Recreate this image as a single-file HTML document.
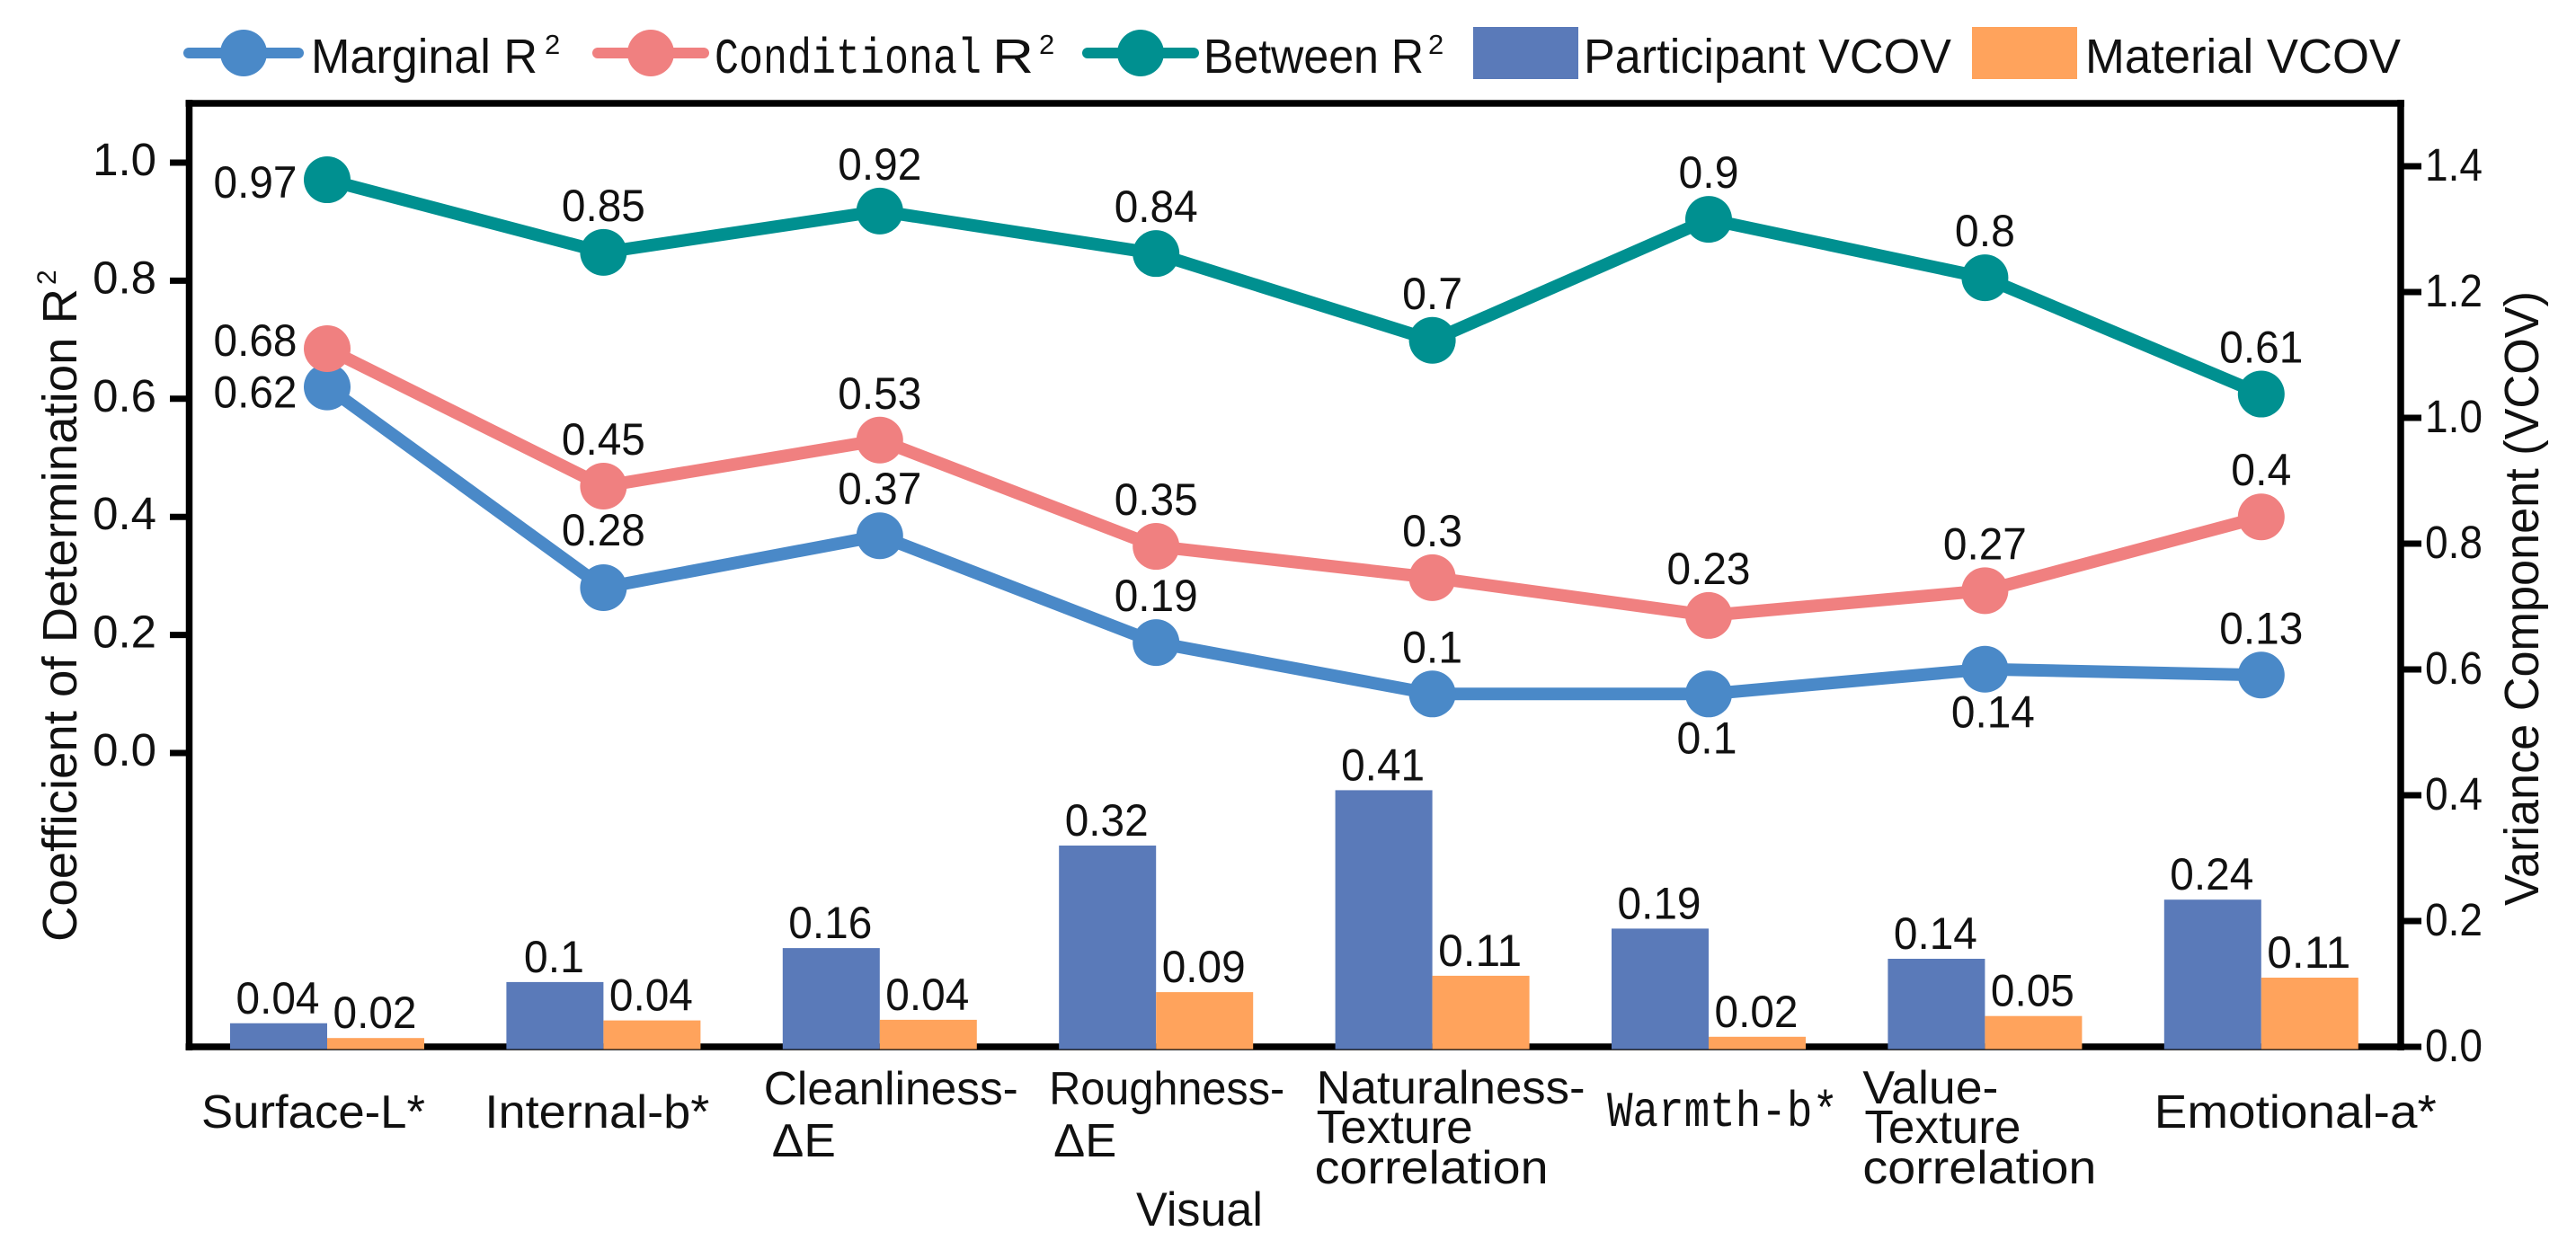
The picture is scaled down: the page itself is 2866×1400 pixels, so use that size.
<!DOCTYPE html>
<html lang="en">
<head>
<meta charset="utf-8">
<title>Coefficient of determination and variance components by visual attribute</title>
<style>
html,body{margin:0;padding:0;background:#fff}
svg{display:block}
text{font-family:"Liberation Sans","DejaVu Sans",sans-serif;fill:#111}
.mono{font-family:"Liberation Mono","DejaVu Sans Mono",monospace}
</style>
</head>
<body>
<svg id="chart" xmlns="http://www.w3.org/2000/svg" width="2866" height="1400" viewBox="0 0 2866 1400"></svg>
<script>
const categories = ["Surface-L*","Internal-b*","Cleanliness-ΔE","Roughness-ΔE","Naturalness-Texture correlation","Warmth-b*","Value-Texture correlation","Emotional-a*"];
const marginalValues = [0.62,0.28,0.368,0.187,0.10,0.10,0.142,0.132];
const conditionalValues = [0.685,0.452,0.53,0.35,0.297,0.233,0.275,0.40];
const betweenValues = [0.971,0.848,0.918,0.846,0.699,0.904,0.805,0.608];
const participantValues = [0.0375,0.103,0.157,0.32,0.408,0.188,0.14,0.234];
const materialValues = [0.014,0.042,0.043,0.087,0.113,0.016,0.049,0.11];
const marginalLabels = ["0.62","0.28","0.37","0.19","0.1","0.1","0.14","0.13"];
const conditionalLabels = ["0.68","0.45","0.53","0.35","0.3","0.23","0.27","0.4"];
const betweenLabels = ["0.97","0.85","0.92","0.84","0.7","0.9","0.8","0.61"];
const participantLabels = ["0.04","0.1","0.16","0.32","0.41","0.19","0.14","0.24"];
const materialLabels = ["0.02","0.04","0.04","0.09","0.11","0.02","0.05","0.11"];
const leftTicks = ["0.0","0.2","0.4","0.6","0.8","1.0"];
const rightTicks = ["0.0","0.2","0.4","0.6","0.8","1.0","1.2","1.4"];

const svg = document.getElementById('chart');
const NS = 'http://www.w3.org/2000/svg';
const PLOT = {left:210.5, right:2671, top:115, bottom:1165};
const BAR_W = 108;

function yLeft(v){ return 838 - 657 * v; }
function yRight(v){ return 1165 - 700 * v; }
function xCat(i){ return 364 + 307.4 * i; }

function make(tag, attrs, parent){
  const el = document.createElementNS(NS, tag);
  for (const k in attrs) el.setAttribute(k, attrs[k]);
  (parent || svg).appendChild(el);
  return el;
}
function label(str, x, y, size, anchor, parent, len){
  const attrs = {x:x, y:y, 'font-size':size, 'text-anchor':anchor || 'middle'};
  if (len) { attrs.textLength = len; attrs.lengthAdjust = 'spacingAndGlyphs'; }
  const t = make('text', attrs, parent);
  t.textContent = str;
  return t;
}
function valueLabel(str, x, y){
  return label(str, x, y, 50, 'middle', svg, str.length > 3 ? 93 : 67);
}

/* frame */
const frame = make('g', {});


const spines = [
  ['left-spine', PLOT.left, PLOT.top-4, PLOT.left, PLOT.bottom+4],
  ['right-spine', PLOT.right, PLOT.top-4, PLOT.right, PLOT.bottom+4],
  ['top-spine', PLOT.left-4, PLOT.top, PLOT.right+4, PLOT.top],
  ['bottom-spine', PLOT.left-4, PLOT.bottom, PLOT.right+4, PLOT.bottom]
];
spines.forEach(function(s){
  const l = make('line', {x1:s[1], y1:s[2], x2:s[3], y2:s[4], stroke:'#000', 'stroke-width':7.5}, frame);
  
  
});

/* left axis */
leftTicks.forEach(function(t){
  const y = yLeft(parseFloat(t));
  const g = make('g', {});
  
  
  make('line', {x1:189, y1:y, x2:208, y2:y, stroke:'#000', 'stroke-width':7}, g);
  label(t, 174, y + 14, 51, 'end', g);
});

/* right axis */
rightTicks.forEach(function(t){
  const y = yRight(parseFloat(t));
  const g = make('g', {});
  
  
  make('line', {x1:2674, y1:y, x2:2694, y2:y, stroke:'#000', 'stroke-width':7}, g);
  label(t, 2698, y + 16, 51, 'start', g, 64);
});

/* axis titles */
const leftTitle = make('text', {transform:'translate(85,1048) rotate(-90)', x:0, y:0, 'font-size':54, textLength:727, lengthAdjust:'spacingAndGlyphs'});
leftTitle.textContent = 'Coefficient of Determination R';


const leftTitleExp = make('text', {transform:'translate(62,317) rotate(-90)', x:0, y:0, 'font-size':30});
leftTitleExp.textContent = '2';


const rightTitle = make('text', {transform:'translate(2824,1008) rotate(-90)', x:0, y:0, 'font-size':54, textLength:684, lengthAdjust:'spacingAndGlyphs'});
rightTitle.textContent = 'Variance Component (VCOV)';


const xTitle = label('Visual', 1264, 1364, 53, 'start', svg, 141);



/* category labels: each wrapped line is placed relative to its group */
const catLayout = [
  [[categories[0], -140, 1255, 249]],
  [[categories[1], -132, 1255, 250]],
  [['Cleanliness-', -129, 1229, 283], ['ΔE', -120, 1287, 71]],
  [['Roughness-', -119, 1229, 262], ['ΔE', -114, 1287, 70]],
  [['Naturalness-', -129, 1228, 299], ['Texture', -129, 1272, 174], ['correlation', -131, 1317, 260]],
  [[categories[5], -113, 1253, 257, 'mono', 56]],
  [['Value-', -136, 1228, 151], ['Texture', -134, 1272, 174], ['correlation', -136, 1317, 260]],
  [[categories[7], -119, 1255, 314]]
];
catLayout.forEach(function(lines, i){
  const g = make('g', {});
  
  
  lines.forEach(function(ln){
    const t = label(ln[0], xCat(i) + ln[1], ln[2], ln[5] || 52, 'start', g, ln[3]);
    if (ln[4]) t.setAttribute('class', ln[4]);
  });
});

/* bars */
function drawBars(values, printed, color, side, name){
  values.forEach(function(v, i){
    const top = yRight(v);
    const x = side < 0 ? xCat(i) - BAR_W : xCat(i);
    const bar = make('rect', {x:x, y:top, width:BAR_W, height:yRight(0) + 2.5 - top, fill:color});
    
    
    const t = valueLabel(printed[i], x + BAR_W / 2 - 1, top - 11);
    
    
  });
}
drawBars(participantValues, participantLabels, '#5a7ab9', -1, 'participant-vcov');
drawBars(materialValues, materialLabels, '#ffa35c', 1, 'material-vcov');

/* lines: default label sits above its marker, nudges override it */
const labelNudges = {
  'marginal-0':[-80,23], 'marginal-1':[0,-47], 'marginal-5':[-2,66], 'marginal-6':[9,65],
  'conditional-0':[-80,8], 'between-0':[-80,20]
};
function drawLine(values, printed, color, name){
  const pts = values.map(function(v, i){ return xCat(i) + ',' + yLeft(v); }).join(' ');
  const line = make('polyline', {points:pts, fill:'none', stroke:color, 'stroke-width':14, 'stroke-linejoin':'round'});
  
  
  values.forEach(function(v, i){
    const pt = make('circle', {cx:xCat(i), cy:yLeft(v), r:26, fill:color});
    
    
    const n = labelNudges[name + '-' + i] || [0,-35];
    const t = valueLabel(printed[i], xCat(i) + n[0], yLeft(v) + n[1]);
    
    
  });
}
drawLine(betweenValues, betweenLabels, '#009090', 'between');
drawLine(marginalValues, marginalLabels, '#4a89c8', 'marginal');
drawLine(conditionalValues, conditionalLabels, '#f08080', 'conditional');

/* legend */
function legendLine(x1, x2, cx, color, name, parts, expX){
  const g = make('g', {});
  
  
  make('line', {x1:x1, y1:59, x2:x2, y2:59, stroke:color, 'stroke-width':12, 'stroke-linecap':'round'}, g);
  make('circle', {cx:cx, cy:59, r:26, fill:color}, g);
  parts.forEach(function(p){
    const t = label(p[0], p[1], 81, p[4] || 54, 'start', g, p[2]);
    if (p[3]) t.setAttribute('class', p[3]);
  });
  label('2', expX, 60, 31, 'start', g);
}
legendLine(210, 332, 271, '#4a89c8', 'legend-entry-marginal', [['Marginal R', 346, 252]], 606);
legendLine(665, 783, 724, '#f08080', 'legend-entry-conditional', [['Conditional', 795, 297, 'mono', 56], ['R', 1104, 46]], 1156);
legendLine(1210, 1328, 1269, '#009090', 'legend-entry-between', [['Between R', 1339, 245]], 1589);
function legendBar(x, color, str, tx, tlen, name){
  const g = make('g', {});
  
  
  make('rect', {x:x, y:30, width:117, height:58, fill:color}, g);
  label(str, tx, 81, 54, 'start', g, tlen);
}
legendBar(1639, '#5a7ab9', 'Participant VCOV', 1762, 409, 'legend-entry-participant');
legendBar(2194, '#ffa35c', 'Material VCOV', 2320, 351, 'legend-entry-material');
</script>
</body>
</html>
